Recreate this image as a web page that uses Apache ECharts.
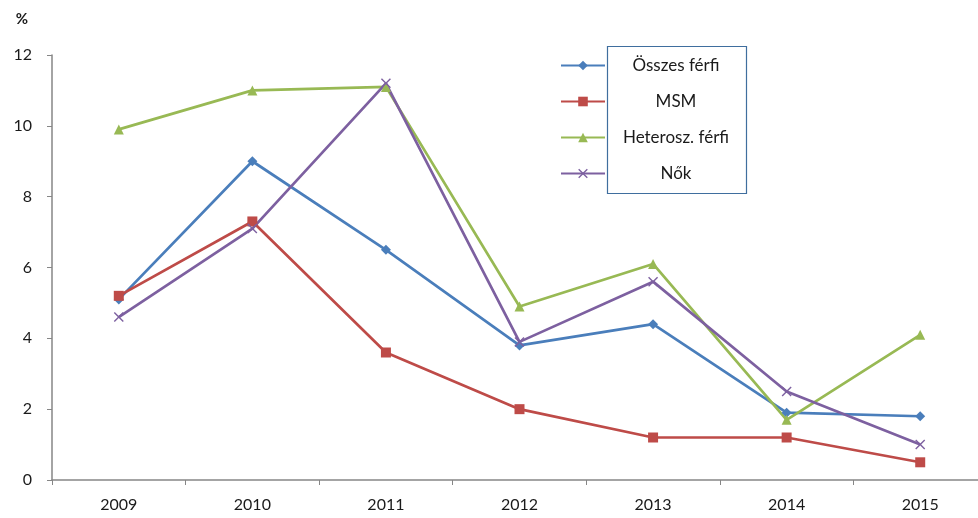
<!DOCTYPE html>
<html><head><meta charset="utf-8">
<script src="https://cdn.jsdelivr.net/npm/echarts@6/dist/echarts.min.js"></script>
<style>html,body{margin:0;padding:0;background:#fff;overflow:hidden;width:978px;height:518px}#c{width:987px;height:518px}</style>
</head><body><div id="c"></div>
<script>
const years = ['2009','2010','2011','2012','2013','2014','2015'];
const osszesFerfi = [5.1, 9.0, 6.5, 3.8, 4.4, 1.9, 1.8];
const msm = [5.2, 7.3, 3.6, 2.0, 1.2, 1.2, 0.5];
const heteroFerfi = [9.9, 11.0, 11.1, 4.9, 6.1, 1.7, 4.1];
const nok = [4.6, 7.1, 11.2, 3.9, 5.6, 2.5, 1.0];
const yTicks = [0, 2, 4, 6, 8, 10, 12];

const FONT = 'Lato, "Open Sans", sans-serif';
const crossPath = 'path://M0,1L1,0L5,4L9,0L10,1L6,5L10,9L9,10L5,6L1,10L0,9L4,5Z';
function mk(name, data, color, symbol, size) {
  return {
    name, type: 'line', data, symbol, symbolSize: size,
    lineStyle: { color, width: 2.7 },
    itemStyle: { color },
    emphasis: { disabled: true }
  };
}
const chart = echarts.init(document.getElementById('c'), null, { renderer: 'canvas' });
chart.setOption({
  animation: false,
  backgroundColor: '#fff',
  grid: { left: 52, right: 0, top: 55, bottom: 38, containLabel: false },
  xAxis: {
    type: 'category', data: years, boundaryGap: true,
    axisLine: { lineStyle: { color: '#868686', width: 1.5 } },
    axisTick: { show: true, length: 5, lineStyle: { color: '#868686' } },
    axisLabel: { color: '#1a1a1a', fontSize: 16, fontFamily: FONT, margin: 17 }
  },
  yAxis: {
    type: 'value', min: yTicks[0], max: yTicks[yTicks.length - 1], interval: 2,
    name: '%', nameLocation: 'end', nameGap: 28,
    nameTextStyle: { color: '#1a1a1a', fontSize: 15, fontWeight: 'bold', fontFamily: FONT, align: 'right', padding: [0, 24, 0, 0] },
    axisLine: { show: true, lineStyle: { color: '#868686', width: 1.5 } },
    axisTick: { show: true, length: 5, lineStyle: { color: '#868686' } },
    splitLine: { show: false },
    axisLabel: { color: '#1a1a1a', fontSize: 16, fontFamily: FONT, margin: 20 }
  },
  legend: {
    orient: 'vertical', left: 555, top: 52, itemWidth: 44, itemHeight: 12, itemGap: 19,
    formatter: function (n) { return '{c|' + n + '}'; },
    textStyle: {
      color: '#1a1a1a', fontSize: 17, fontFamily: FONT,
      rich: { c: { width: 132, align: 'center', fontSize: 17, fontFamily: FONT, color: '#1a1a1a' } }
    },
    data: ['Összes férfi', 'MSM', 'Heterosz. férfi', 'Nők']
  },
  graphic: [{
    type: 'rect', left: 605, top: 44, z: 100,
    shape: { width: 139, height: 147 },
    style: { fill: 'none', stroke: '#3f6e9e', lineWidth: 1.2 }
  }],
  series: [
    mk('Összes férfi', osszesFerfi, '#4a7ebb', 'diamond', 10),
    mk('MSM', msm, '#be4b48', 'rect', 10),
    mk('Heterosz. férfi', heteroFerfi, '#98b954', 'triangle', 10),
    mk('Nők', nok, '#7d60a0', crossPath, 10)
  ]
});
</script></body></html>
